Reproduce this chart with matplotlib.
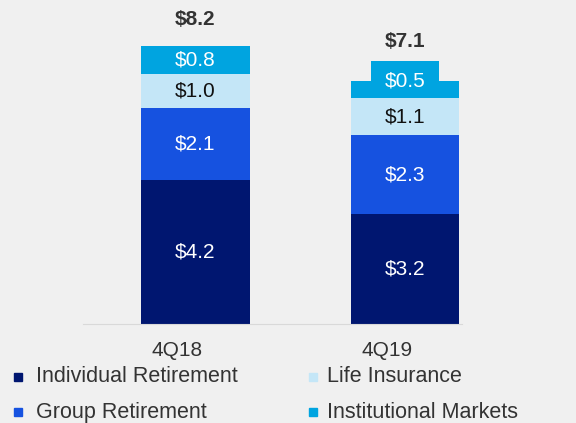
import matplotlib.pyplot as plt
from matplotlib.lines import Line2D

plt.rcParams["font.family"] = ["Liberation Sans", "DejaVu Sans"]

quarters = ["4Q18", "4Q19"]
series = ["Individual Retirement", "Group Retirement", "Life Insurance", "Institutional Markets"]
values = [
    [4.2, 3.2],
    [2.1, 2.3],
    [1.0, 1.1],
    [0.8, 0.5],
]
totals = [8.2, 7.1]

colors = ["#001670", "#1652e0", "#c4e6f7", "#00a4e0"]
label_colors = ["white", "white", "#111111", "white"]
bg = "#f0f0f0"

fig = plt.figure(figsize=(5.76, 4.23), dpi=100, facecolor=bg)
ax = fig.add_axes([83 / 576, 99 / 423, 379 / 576, 324 / 423], facecolor=bg)

x = list(range(len(quarters)))
width = 0.52
tab_w = 0.32
tab_h = 0.58
bottoms = [0.0] * len(quarters)
tabs = [None] * len(quarters)
for i, (name, vals) in enumerate(zip(series, values)):
    ax.bar(x, vals, width, bottom=bottoms, color=colors[i], edgecolor="none")
    for j, v in enumerate(vals):
        y = bottoms[j] + v / 2
        # small segment: label sits on a tab that pokes above the bar
        if v < 0.7:
            y = bottoms[j] + v
            ax.bar(x[j], tab_h, tab_w, bottom=bottoms[j] + v, color=colors[i], edgecolor="none")
            tabs[j] = bottoms[j] + v + tab_h
        ax.text(x[j], y, f"${v:.1f}", ha="center", va="center",
                fontsize=15, color=label_colors[i])
    bottoms = [b + v for b, v in zip(bottoms, vals)]

for j, t in enumerate(totals):
    if tabs[j] is not None:
        ty = tabs[j] + 0.55
    else:
        ty = bottoms[j] + 0.78
    ax.text(x[j], ty, f"${t:.1f}", ha="center", va="center",
            fontsize=15, fontweight="bold", color="#333333")

ax.set_xlim(-0.537, 1.272)
ax.set_ylim(0, 9.45)
for s in ["top", "left", "right"]:
    ax.spines[s].set_visible(False)
ax.spines["bottom"].set_color("#d9d9d9")
ax.set_xticks([])
ax.set_yticks([])

for j, q in enumerate(quarters):
    ax.annotate(q, xy=(x[j], 0), xycoords=("data", "axes fraction"),
                xytext=(-13, -19), textcoords="offset points",
                ha="center", va="center", fontsize=15, color="#333333")

# legend: two columns, two rows
col_x = [18, 313]
text_dx = [18, 14]
row_y = [377, 412]
for i, name in enumerate(series):
    cx = col_x[i // 2]
    cy = row_y[i % 2]
    fig.add_artist(Line2D([cx / 576], [1 - cy / 423], marker="s", markersize=6,
                          color=colors[i], linestyle="none", transform=fig.transFigure))
    fig.text((cx + text_dx[i // 2]) / 576, 1 - cy / 423, name, ha="left", va="center",
             fontsize=15.5, color="#333333")

fig.savefig("out.png", dpi=100, facecolor=bg)
